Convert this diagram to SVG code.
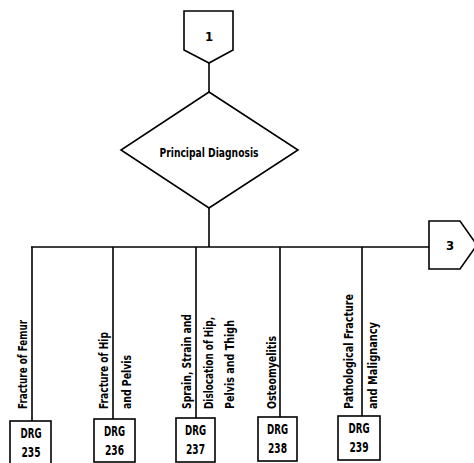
<svg xmlns="http://www.w3.org/2000/svg" width="474" height="463" viewBox="0 0 474 463">
  <style>
    .shape { fill: #fff; stroke: #000; stroke-width: 1.6; stroke-linejoin: miter; }
    .wire { fill: none; stroke: #000; stroke-width: 1.6; }
    text { font-family: "Liberation Sans Narrow", "DejaVu Sans Condensed", "Liberation Sans", sans-serif; font-weight: bold; fill: #000; }
    .mid { text-anchor: middle; }
    .lbl { font-size: 13px; }
    .drg { font-size: 14px; text-anchor: middle; }
  </style>
  <rect width="474" height="463" fill="#fff"/>

  <!-- connectors -->
  <g id="connectors" class="wire">
    <line x1="209" y1="63" x2="209" y2="92"/>
    <line x1="209" y1="208" x2="209" y2="247"/>
    <line x1="31" y1="247" x2="429" y2="247"/>
    <line x1="32" y1="247" x2="32" y2="421"/>
    <line x1="113" y1="247" x2="113" y2="419"/>
    <line x1="196" y1="247" x2="196" y2="418"/>
    <line x1="280" y1="247" x2="280" y2="417"/>
    <line x1="362" y1="247" x2="362" y2="416"/>
  </g>

  <!-- off-page connector 1 -->
  <g id="connector-1">
    <polygon class="shape" points="184,11 233,11 233,50 209,63 184,50"/>
    <text class="mid" x="209" y="41" font-size="13">1</text>
  </g>

  <!-- decision -->
  <g id="principal-diagnosis">
    <polygon class="shape" points="209,92 298,150 209,208 121,150"/>
    <text class="mid" x="209" y="156.5" font-size="13" textLength="99" lengthAdjust="spacingAndGlyphs">Principal Diagnosis</text>
  </g>

  <!-- off-page connector 3 -->
  <g id="connector-3">
    <polygon class="shape" points="429,221 460,221 477,245 460,269 429,269"/>
    <text class="mid" x="450" y="250" font-size="13">3</text>
  </g>

  <!-- branch labels -->
  <g id="label-235" class="lbl">
    <text transform="translate(26.5,409) rotate(-90)" textLength="89" lengthAdjust="spacingAndGlyphs">Fracture of Femur</text>
  </g>
  <g id="label-236" class="lbl">
    <text transform="translate(107.5,409) rotate(-90)" textLength="77" lengthAdjust="spacingAndGlyphs">Fracture of Hip</text>
    <text transform="translate(130.5,409) rotate(-90)" textLength="54" lengthAdjust="spacingAndGlyphs">and Pelvis</text>
  </g>
  <g id="label-237" class="lbl">
    <text transform="translate(190.5,409) rotate(-90)" textLength="95" lengthAdjust="spacingAndGlyphs">Sprain, Strain and</text>
    <text transform="translate(212.5,409) rotate(-90)" textLength="92" lengthAdjust="spacingAndGlyphs">Dislocation of Hip,</text>
    <text transform="translate(233.5,409) rotate(-90)" textLength="89" lengthAdjust="spacingAndGlyphs">Pelvis and Thigh</text>
  </g>
  <g id="label-238" class="lbl">
    <text transform="translate(275.5,409) rotate(-90)" textLength="73" lengthAdjust="spacingAndGlyphs">Osteomyelitis</text>
  </g>
  <g id="label-239" class="lbl">
    <text transform="translate(352.5,409) rotate(-90)" textLength="115" lengthAdjust="spacingAndGlyphs">Pathological Fracture</text>
    <text transform="translate(376.5,409) rotate(-90)" textLength="87" lengthAdjust="spacingAndGlyphs">and Malignancy</text>
  </g>

  <!-- DRG boxes -->
  <g id="drg-235">
    <rect class="shape" x="10" y="421" width="41" height="44"/>
    <text class="drg" x="31" y="438" textLength="21" lengthAdjust="spacingAndGlyphs">DRG</text>
    <text class="drg" x="31" y="457" textLength="19" lengthAdjust="spacingAndGlyphs">235</text>
  </g>
  <g id="drg-236">
    <rect class="shape" x="94" y="419" width="41" height="43"/>
    <text class="drg" x="114.5" y="436" textLength="21" lengthAdjust="spacingAndGlyphs">DRG</text>
    <text class="drg" x="114.5" y="455" textLength="19" lengthAdjust="spacingAndGlyphs">236</text>
  </g>
  <g id="drg-237">
    <rect class="shape" x="176" y="418" width="39" height="44"/>
    <text class="drg" x="195.5" y="435" textLength="21" lengthAdjust="spacingAndGlyphs">DRG</text>
    <text class="drg" x="195.5" y="454" textLength="19" lengthAdjust="spacingAndGlyphs">237</text>
  </g>
  <g id="drg-238">
    <rect class="shape" x="258" y="417" width="39" height="44"/>
    <text class="drg" x="277.5" y="434" textLength="21" lengthAdjust="spacingAndGlyphs">DRG</text>
    <text class="drg" x="277.5" y="453" textLength="19" lengthAdjust="spacingAndGlyphs">238</text>
  </g>
  <g id="drg-239">
    <rect class="shape" x="338" y="416" width="42" height="44"/>
    <text class="drg" x="359" y="433" textLength="21" lengthAdjust="spacingAndGlyphs">DRG</text>
    <text class="drg" x="359" y="452" textLength="19" lengthAdjust="spacingAndGlyphs">239</text>
  </g>
</svg>
